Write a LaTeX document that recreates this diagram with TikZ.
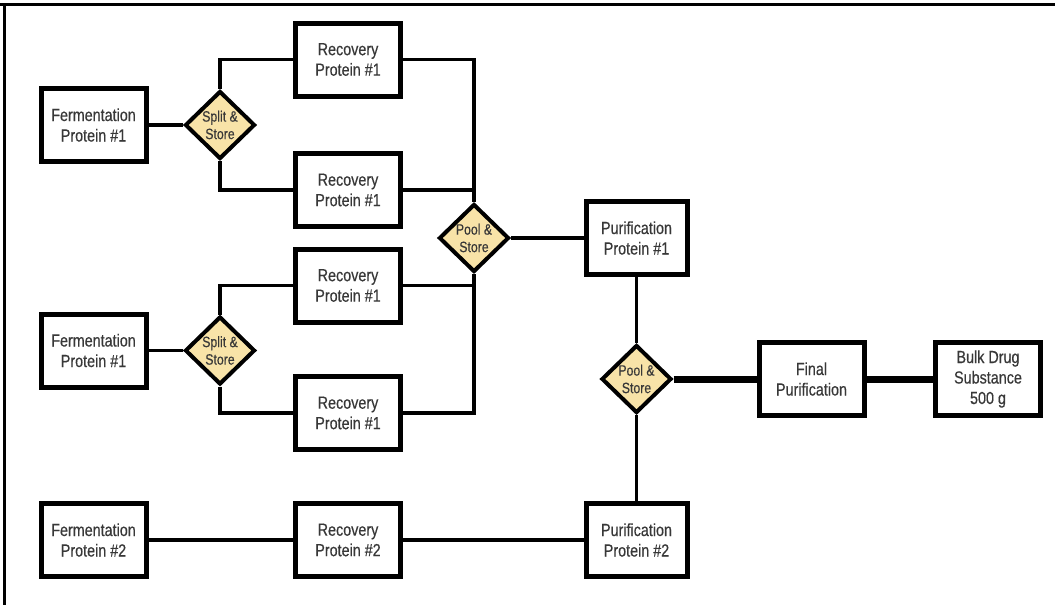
\documentclass[tikz,border=0pt]{standalone}
\usepackage{fontspec}
\setmainfont{Liberation Sans}[FakeStretch=0.82,FakeBold=0.4]
\usetikzlibrary{shapes.geometric}
\definecolor{txt}{HTML}{383838}
\definecolor{dfill}{HTML}{F8E3A8}
\tikzset{
  box/.style={draw=black, fill=white, line width=5pt, minimum width=105pt, minimum height=73pt,
    inner sep=0pt, align=center, text=txt, font=\fontsize{17.5}{20.5}\selectfont},
  dia/.style={diamond, draw=black, fill=dfill, line width=4pt, minimum width=70pt, minimum height=68pt,
    inner sep=0pt, align=center, text=txt, font=\fontsize{15}{17.5}\selectfont},
  conn/.style={line width=3.5pt, line join=miter},
  thick conn/.style={line width=7pt},
  frame/.style={line width=3pt}
}
\begin{document}
\begin{tikzpicture}[x=1pt,y=-1pt]
\useasboundingbox (0,0) rectangle (1055,605);
\draw[frame] (0,4) -- (1055,4);
\draw[frame] (4,4) -- (4,605);

\coordinate (cf1) at (93.5,125);
\coordinate (cs1) at (220,125);
\coordinate (cr1) at (348,59.5);
\coordinate (cr2) at (348,190);
\coordinate (cp1) at (474,238);
\coordinate (cu1) at (636.5,238);
\coordinate (cf2) at (93.5,350.5);
\coordinate (cs2) at (220,350.5);
\coordinate (cr3) at (348,285.5);
\coordinate (cr4) at (348,413);
\coordinate (cq2) at (636.5,379);
\coordinate (cfin) at (811.5,379);
\coordinate (cbulk) at (988,379);
\coordinate (cf3) at (93.5,540);
\coordinate (cr5) at (348,540);
\coordinate (cu2) at (636.5,540);

\node[box] (f1) at (cf1) {Fermentation\\Protein \#1};
\node[dia] (s1) at (cs1) {Split \&\\Store};
\node[box] (r1) at (cr1) {Recovery\\Protein \#1};
\node[box] (r2) at (cr2) {Recovery\\Protein \#1};
\node[dia] (p1) at (cp1) {Pool \&\\Store};
\node[box, minimum width=101pt] (u1) at (cu1) {Purification\\Protein \#1};
\node[box] (f2) at (cf2) {Fermentation\\Protein \#1};
\node[dia] (s2) at (cs2) {Split \&\\Store};
\node[box] (r3) at (cr3) {Recovery\\Protein \#1};
\node[box] (r4) at (cr4) {Recovery\\Protein \#1};
\node[dia] (q2) at (cq2) {Pool \&\\Store};
\node[box] (fin) at (cfin) {Final\\Purification};
\node[box] (bulk) at (cbulk) {Bulk Drug\\Substance\\500 g};
\node[box] (f3) at (cf3) {Fermentation\\Protein \#2};
\node[box] (r5) at (cr5) {Recovery\\Protein \#2};
\node[box, minimum width=101pt] (u2) at (cu2) {Purification\\Protein \#2};

\draw[conn] (f1.east) -- (s1.west);
\draw[conn] (s1.north) |- (r1.west);
\draw[conn] (s1.south) |- (r2.west);
\draw[conn] (r1.east) -| (p1.north);
\draw[conn] (r2.east) -| (p1.north);
\draw[conn] (p1.east) -- (u1.west);
\draw[conn] (f2.east) -- (s2.west);
\draw[conn] (s2.north) |- (r3.west);
\draw[conn] (s2.south) |- (r4.west);
\draw[conn] (r3.east) -| (p1.south);
\draw[conn] (r4.east) -| (p1.south);
\draw[conn] (u1.south) -- (q2.north);
\draw[conn] (q2.south) -- (u2.north);
\draw[thick conn] (q2.east) -- (fin.west);
\draw[thick conn] (fin.east) -- (bulk.west);
\draw[conn] (f3.east) -- (r5.west);
\draw[conn] (r5.east) -- (u2.west);
\end{tikzpicture}
\end{document}
